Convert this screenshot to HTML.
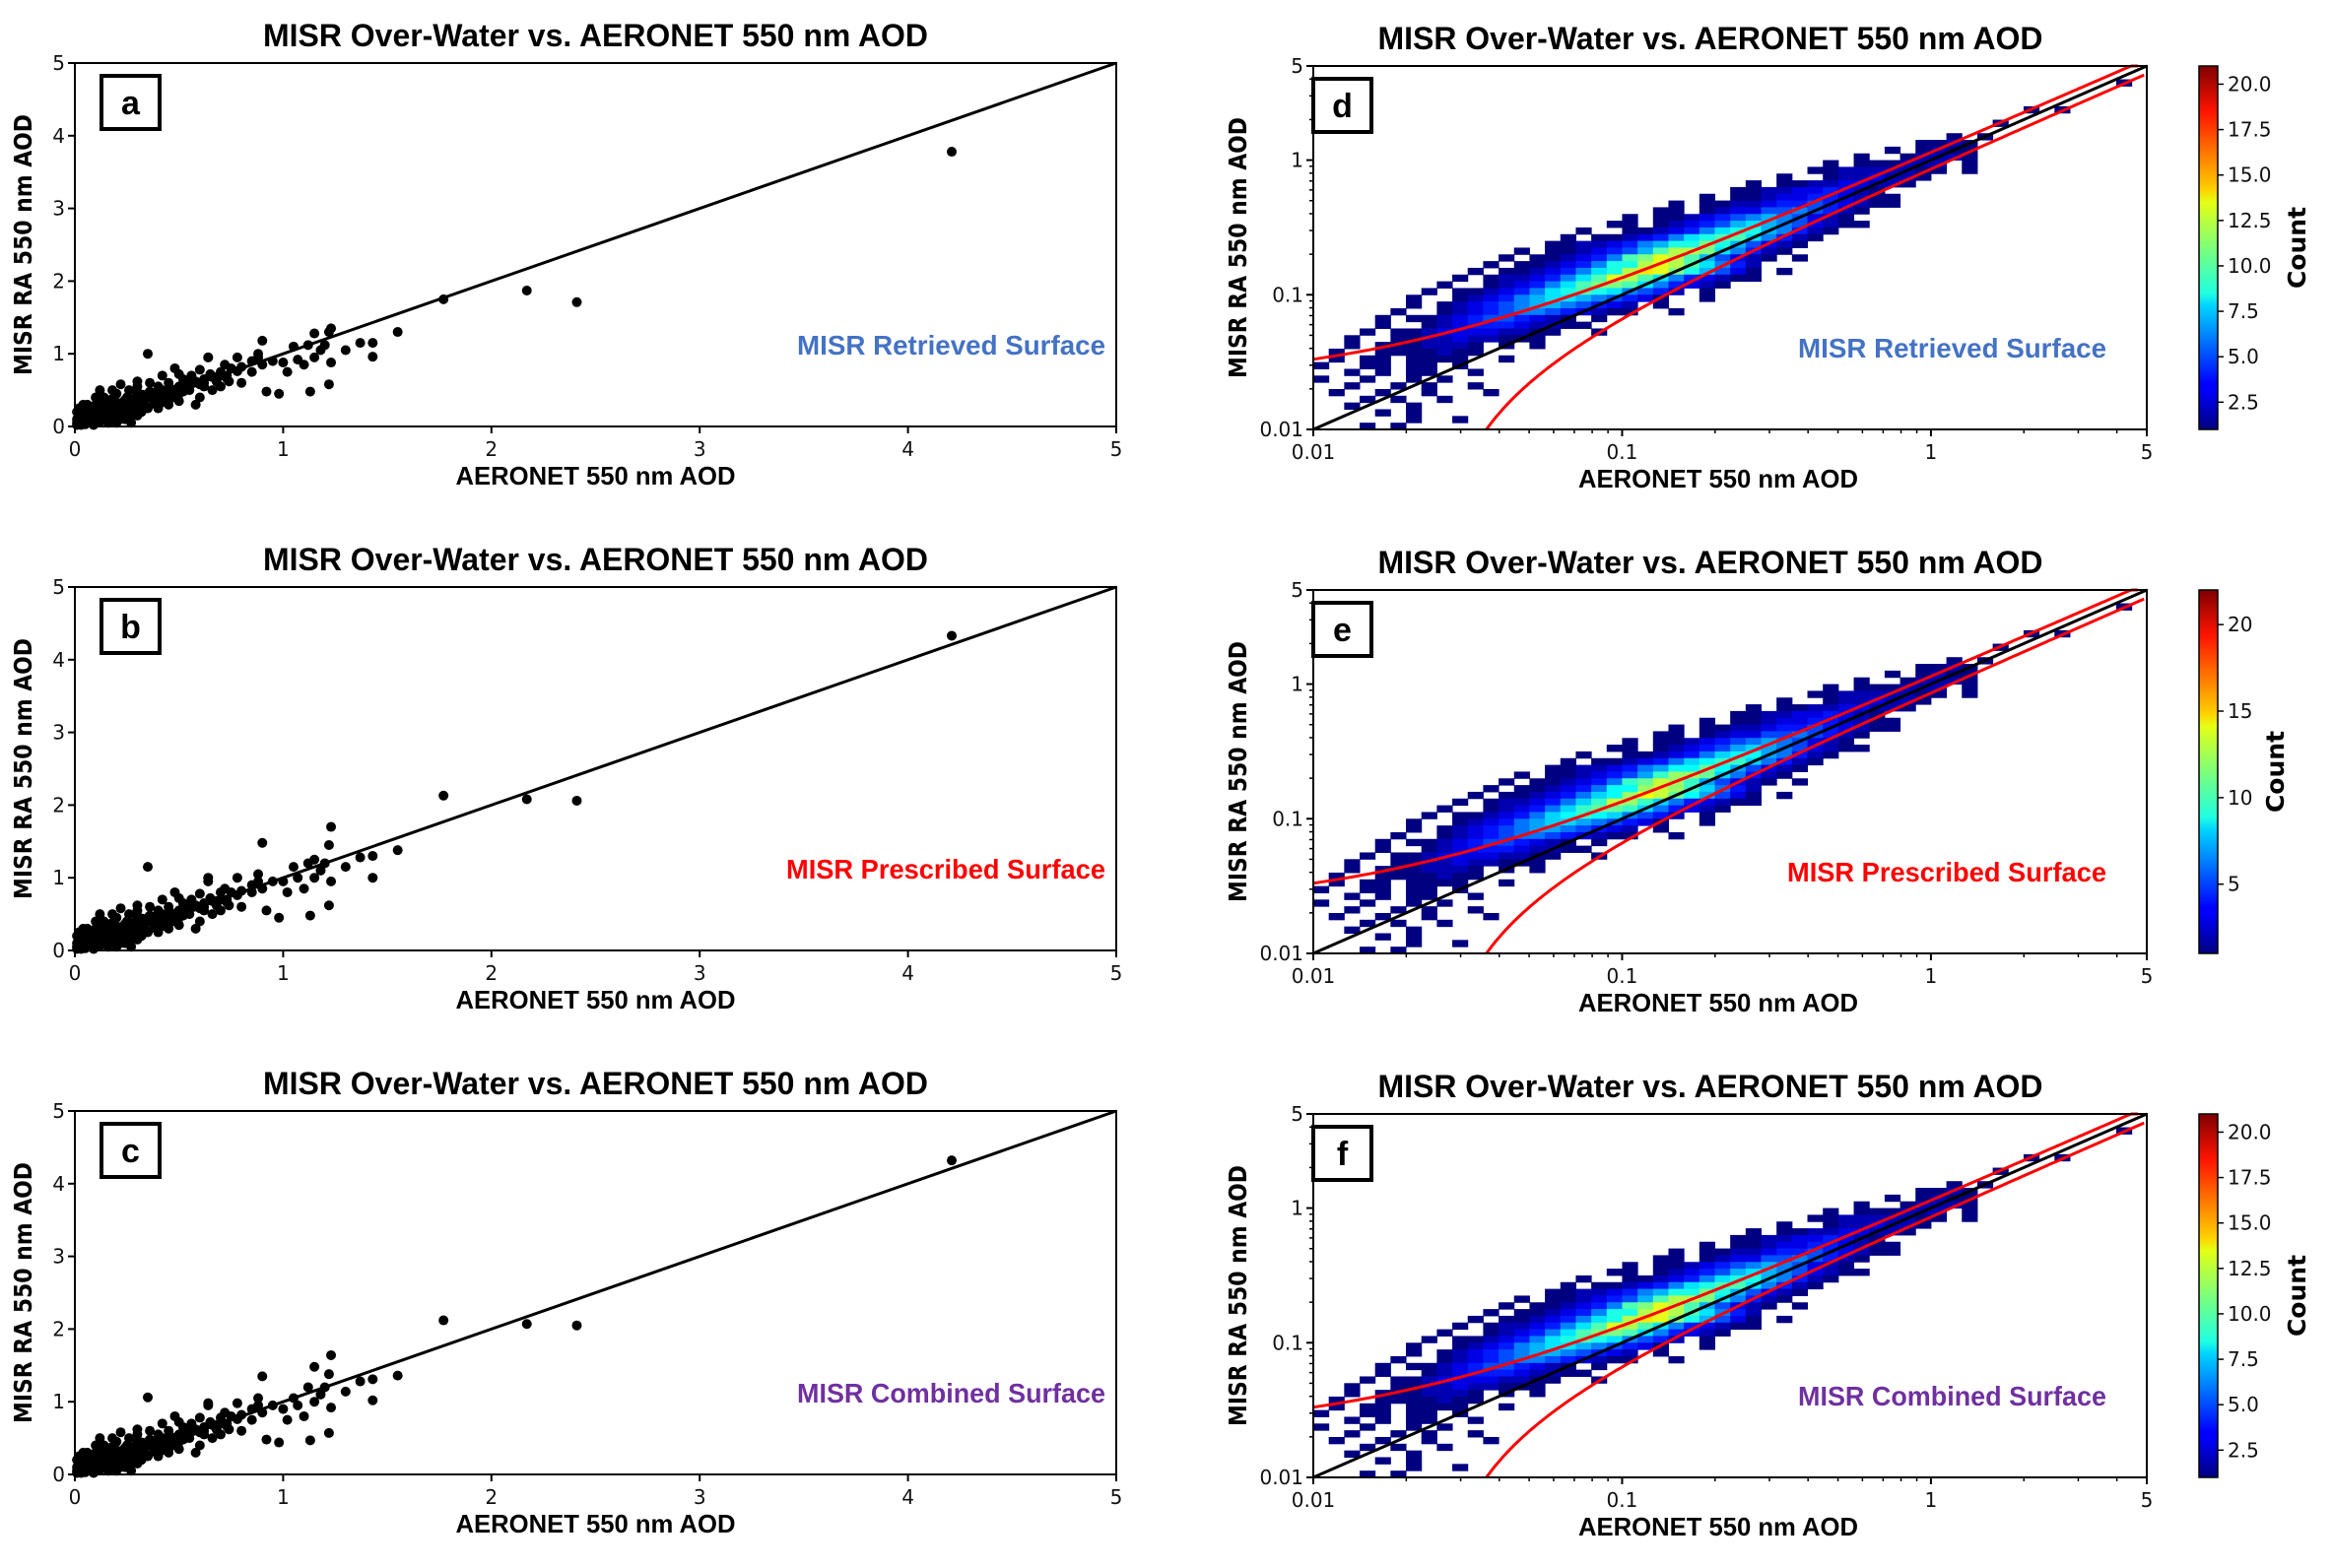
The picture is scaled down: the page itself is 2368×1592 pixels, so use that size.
<!DOCTYPE html>
<html><head><meta charset="utf-8">
<style>
html,body{margin:0;padding:0;background:#fff;}
svg{display:block;}
text{font-family:"Liberation Sans",sans-serif;}
.tick{font-family:"DejaVu Sans","Liberation Sans",sans-serif;font-size:20px;fill:#111;}
</style></head>
<body>
<svg id="fig" xmlns="http://www.w3.org/2000/svg" width="2368" height="1592" viewBox="0 0 2368 1592">
<defs>
<linearGradient id="jet" x1="0" y1="1" x2="0" y2="0">
<stop offset="0" stop-color="#00007f"/><stop offset="0.11" stop-color="#0000ff"/><stop offset="0.125" stop-color="#0000ff"/>
<stop offset="0.34" stop-color="#00d4ff"/><stop offset="0.375" stop-color="#1fffe0"/><stop offset="0.5" stop-color="#7dff7a"/>
<stop offset="0.625" stop-color="#e4ff13"/><stop offset="0.66" stop-color="#ffd000"/><stop offset="0.875" stop-color="#ff1300"/><stop offset="1" stop-color="#7f0000"/>
</linearGradient>
</defs>
</svg>
<script>
// ---------- data ----------
const linTicks = [0,1,2,3,4,5];
const logTickVals = [0.01,0.1,1,5];
const logTickLabels = ["0.01","0.1","1","5"];
const clusterX = [0.6,0.58,0.62,0.66,0.7,0.72,0.5,0.45,0.4,0.36,0.32,0.3,0.26,0.24,0.2,0.18,0.16,0.14,0.1,0.08,0.06,0.04,0.3,0.4,0.5,0.55,0.45,0.35,0.22,0.28,0.15,0.12,0.07,0.05,0.09,0.17,0.26,0.34,0.44,0.52,0.6,0.65,0.74,0.8,0.85,0.9,0.22,0.3,0.42,0.5,0.12,
0.62,0.6,0.64,0.56,0.55,0.52,0.5,0.48,0.47,0.45,0.42,0.4,0.38,0.35,0.33,0.3,0.3,0.28,0.27,0.25,0.25,0.22,0.2,0.2,0.18,0.16,0.15,0.14,0.12,0.12,0.1,0.1,0.08,0.08,0.06,0.05,0.04,0.03,0.02,0.02,0.01,0.03,0.05,0.07,0.09,0.11,0.13,0.15,0.17,0.19,0.21,0.23,0.25,0.27,0.29,0.31,0.33,0.37,0.39,0.43,0.46,0.49,0.53,0.57,0.02,0.04,0.06,0.1,0.14,0.18,0.22,0.26,0.01,0.03,0.12,0.16,0.2,0.24,0.28,0.32,0.36,0.68,0.73,0.78,0.88,
0.01,0.02,0.03,0.04,0.05,0.06,0.07,0.08,0.09,0.1,0.11,0.12,0.13,0.14,0.15,0.16,0.17,0.18,0.19,0.2,0.21,0.22,0.23,0.24,0.25,0.26,0.27,0.28,0.29,0.3,0.32,0.34,0.36,0.38,0.4,0.42,0.44,0.46,0.48,0.5,
0.02,0.04,0.06,0.08,0.1,0.12,0.14,0.16,0.18,0.2,0.22,0.24,0.26,0.28,0.3,0.34,0.38,0.42,0.46,0.54,0.58,0.62,0.66,0.7,
0.01,0.03,0.05,0.07,0.09,0.11,0.13,0.15,0.17,0.19,0.21,0.23,0.25,0.27,0.29,0.31,0.35,0.39,0.41,0.45];
const clusterY = [0.4,0.3,0.65,0.5,0.55,0.85,0.35,0.3,0.25,0.6,0.2,0.15,0.5,0.1,0.05,0.5,0.05,0.4,0.3,0.1,0.3,0.3,0.45,0.4,0.45,0.6,0.5,0.25,0.2,0.35,0.25,0.18,0.18,0.1,0.02,0.15,0.28,0.38,0.36,0.48,0.58,0.72,0.62,0.82,0.9,0.85,0.58,0.62,0.7,0.72,0.5,
0.55,0.78,0.95,0.7,0.5,0.65,0.55,0.8,0.4,0.6,0.45,0.55,0.35,0.45,0.3,0.55,0.35,0.25,0.05,0.4,0.2,0.3,0.15,0.45,0.25,0.35,0.1,0.2,0.28,0.08,0.15,0.4,0.05,0.25,0.12,0.2,0.05,0.15,0.25,0.05,0.1,0.08,0.04,0.12,0.22,0.16,0.24,0.18,0.3,0.22,0.32,0.26,0.3,0.33,0.28,0.38,0.42,0.4,0.44,0.4,0.5,0.48,0.52,0.6,0.15,0.2,0.06,0.22,0.32,0.38,0.1,0.12,0.2,0.02,0.35,0.12,0.28,0.36,0.2,0.44,0.48,0.68,0.66,0.76,0.95,
0.05,0.08,0.1,0.12,0.1,0.14,0.12,0.16,0.15,0.18,0.17,0.2,0.19,0.22,0.2,0.24,0.22,0.25,0.24,0.27,0.26,0.28,0.27,0.3,0.3,0.32,0.31,0.33,0.32,0.35,0.36,0.38,0.4,0.41,0.43,0.45,0.47,0.48,0.5,0.52,
0.15,0.2,0.22,0.16,0.2,0.24,0.22,0.28,0.3,0.33,0.3,0.36,0.34,0.38,0.42,0.42,0.46,0.5,0.52,0.56,0.62,0.6,0.68,0.7,
0.02,0.04,0.03,0.06,0.07,0.06,0.08,0.09,0.11,0.12,0.14,0.15,0.16,0.18,0.2,0.22,0.26,0.3,0.32,0.38];
const outX = [4.21,2.17,2.41,1.77,1.55,1.43,1.43,1.37,1.30,1.23,1.22,1.22,1.23,1.20,1.18,1.15,1.15,1.13,1.12,1.10,1.07,1.05,1.02,1.00,0.98,0.95,0.92,0.90,0.88,0.85,0.80,0.78,0.75,0.73,0.70,0.68,0.64,0.35];
const outYa = [3.78,1.87,1.71,1.75,1.30,1.15,0.96,1.15,1.05,1.35,1.30,0.58,0.88,1.12,1.05,1.28,0.95,0.48,1.12,0.85,0.92,1.10,0.75,0.88,0.45,0.90,0.48,1.18,1.00,0.75,0.60,0.95,0.80,0.70,0.75,0.62,0.95,1.00];
const outYb = [4.33,2.08,2.06,2.13,1.38,1.30,1.00,1.28,1.15,1.70,1.45,0.62,0.95,1.20,1.10,1.25,1.00,0.48,1.20,0.85,1.00,1.15,0.80,0.95,0.45,0.95,0.55,1.48,1.05,0.80,0.60,1.00,0.80,0.70,0.80,0.62,1.00,1.15];
const outYc = [4.32,2.07,2.05,2.12,1.36,1.31,1.02,1.28,1.14,1.64,1.38,0.57,0.92,1.20,1.10,1.48,1.00,0.47,1.20,0.80,0.95,1.05,0.75,0.90,0.44,0.95,0.48,1.35,1.05,0.75,0.60,0.98,0.80,0.70,0.78,0.62,0.98,1.06];
// heatmap: [rowBin, startColBin, counts] ; bins are 0.05 decades from 0.01; '.'=0, 1-9, a=10 ...
const heatRows = [
[51,52,"1"],[47,46,"1.1"],[45,44,"1"],[43,41,"1.1"],[42,39,"1121"],[41,37,"1.1211"],[40,35,"1..12221"],
[39,33,"1.111222.1"],[38,32,"112222211.1"],[37,30,"1..1223221"],[36,28,"1.112233221"],[35,27,"1122334321"],
[34,25,"1.11233443211"],[33,23,"1.1122344543211"],[32,22,"11.12335565421"],[31,20,"1.1123456765321"],
[30,19,"11.12345787653211"],[29,17,"1..11234689976421"],[28,16,"1.11234689aa86421"],[27,15,"1122346799b975321"],
[26,13,"1.1123457accb86421"],[25,12,"1.112346abdca75321.1"],[24,11,"1.11234699cdca8642"],[23,10,"1.11234689cedb97531.1"],
[22,9,"1.1223468adca8643211"],[21,8,"1..123468abba864321"],[20,7,"1.11234689a986542.1"],[19,6,"1..12346788765431..1"],
[18,6,"1.1234567765432.1"],[17,5,"1..1234566543211..1"],[16,4,"1.11234554321.1"],[15,4,"1..12344432211"],
[14,3,"1.11233332211..1"],[13,2,"1..1122322111"],[12,2,"1.1112221.1.1"],[11,1,"1..1111211"],[10,1,"1.11.1111..1"],
[9,0,"1..11.11.1"],[8,1,".1.1.11..1"],[7,0,"1..1..1.1"],[6,2,"1..1.1..1"],[5,1,"1..1..1...1"],[4,3,"1.1..1"],
[3,2,"1...1"],[2,4,"1.1"],[1,6,"1..1"],[0,3,"1.1"]];
const cbTicksD = [2.5,5,7.5,10,12.5,15,17.5,20];
const cbTicksE = [5,10,15,20];
const panelLetters = ["a","b","c","d","e","f"];
const surfLabels = ["MISR Retrieved Surface","MISR Prescribed Surface","MISR Combined Surface"];
const surfColors = ["#4472C4","#FF0000","#7030A0"];

// ---------- drawing ----------
const NS="http://www.w3.org/2000/svg";
const svg=document.getElementById("fig");
function mk(tag,attrs,parent){const e=document.createElementNS(NS,tag);for(const k in attrs)e.setAttribute(k,attrs[k]);(parent||svg).appendChild(e);return e;}
function txt(s,attrs,parent){const e=mk("text",attrs,parent);e.textContent=s;return e;}

const leftTops=[64,596,1128], rightTops=[67,599,1131], H=369;
const LX0=76, LX1=1133, RX0=1333, RX1=2179;
const TITLE="MISR Over-Water vs. AERONET 550 nm AOD";

function titleAndLabels(g,x0,x1,y0,y1,ylabX,right){
  const cx=(x0+x1)/2 - (right?20:0);
  const t=txt(TITLE,{x:cx,y:y0-17,"text-anchor":"middle","font-size":32,"font-weight":"bold",textLength:675,lengthAdjust:"spacingAndGlyphs"},g);
  
  
  const xl=txt("AERONET 550 nm AOD",{x:(x0+x1)/2-(right?12:0),y:y1+59,"text-anchor":"middle","font-size":26,"font-weight":"bold",textLength:284,lengthAdjust:"spacingAndGlyphs"},g);
  
  
  const yc=(y0+y1)/2;
  const yl=txt("MISR RA 550 nm AOD",{x:ylabX,y:yc,"text-anchor":"middle","font-size":25,"font-weight":"bold",textLength:265,lengthAdjust:"spacingAndGlyphs",transform:`rotate(-90 ${ylabX} ${yc})`,style:'font-family:"DejaVu Sans",sans-serif'},g);
  
  
}
function letterBox(g,x,y,l){
  const r=mk("rect",{x:x,y:y,width:59,height:54,fill:"#fff",stroke:"#000","stroke-width":4},g);
  
  
  const t=txt(l,{x:x+29.5,y:y+39,"text-anchor":"middle","font-size":34,"font-weight":"bold"},g);
  
  
}
function surfText(g,xRight,y,i){
  const t=txt(surfLabels[i],{x:xRight,y:y,"text-anchor":"end","font-size":28,"font-weight":"bold",fill:surfColors[i],textLength:i===1?324:313,lengthAdjust:"spacingAndGlyphs"},g);
  
  
}

// Left scatter panels
const outYs=[outYa,outYb,outYc];
for(let p=0;p<3;p++){
  const y0=leftTops[p], y1=y0+H;
  const g=mk("g",{});
  
  
  const sx=v=>LX0+v/5*(LX1-LX0), sy=v=>y1-v/5*(y1-y0);
  titleAndLabels(g,LX0,LX1,y0,y1,32,false);
  const l=mk("line",{x1:sx(0),y1:sy(0),x2:sx(5),y2:sy(5),stroke:"#000","stroke-width":3},g);
  
  
  const allX=clusterX.concat(outX), allY=clusterY.concat(outYs[p]);
  for(let i=0;i<allX.length;i++){
    const c=mk("circle",{cx:sx(allX[i]),cy:sy(allY[i]),r:5,fill:"#000"},g);
    
    
  }
  const fr=mk("rect",{x:LX0,y:y0,width:LX1-LX0,height:H,fill:"none",stroke:"#000","stroke-width":2},g);
  
  
  for(const v of linTicks){
    mk("line",{x1:sx(v),y1:y1,x2:sx(v),y2:y1+7,stroke:"#000","stroke-width":2},g);
    const tx=txt(String(v),{x:sx(v),y:y1+30,"text-anchor":"middle",class:"tick"},g);
    
    
    mk("line",{x1:LX0-7,y1:sy(v),x2:LX0,y2:sy(v),stroke:"#000","stroke-width":2},g);
    const ty=txt(String(v),{x:LX0-10,y:sy(v)+7,"text-anchor":"end",class:"tick"},g);
    
    
  }
  letterBox(g,103,y0+13,panelLetters[p]);
  surfText(g,1122,y0+296,p);
}

function jet(t){t=Math.max(0,Math.min(1,t));
  const f=v=>Math.round(255*Math.max(0,Math.min(1,v)));
  return `rgb(${f(1.5-Math.abs(4*t-3))},${f(1.5-Math.abs(4*t-2))},${f(1.5-Math.abs(4*t-1))})`;}
function cnt(ch){if(ch===".")return 0;return parseInt(ch,36);}

const vmaxs=[21,22,21];
const cbTickSets=[cbTicksD,cbTicksE,cbTicksD];
const LOGSPAN=Math.log10(500);
for(let p=0;p<3;p++){
  const y0=rightTops[p], y1=y0+H;
  const g=mk("g",{});
  
  
  const lx=v=>RX0+(Math.log10(v)+2)/LOGSPAN*(RX1-RX0);
  const ly=v=>y1-(Math.log10(v)+2)/LOGSPAN*(y1-y0);
  const bx=lg=>RX0+(lg+2)/LOGSPAN*(RX1-RX0);
  const by=lg=>y1-(lg+2)/LOGSPAN*(y1-y0);
  titleAndLabels(g,RX0,RX1,y0,y1,1265,true);
  const vmin=1,vmax=vmaxs[p];
  for(const row of heatRows){
    const r=row[0],c0=row[1],s=row[2];
    const ya=-2+0.05*r, yb=Math.min(-2+0.05*(r+1),Math.log10(5));
    if(ya>=Math.log10(5))continue;
    for(let k=0;k<s.length;k++){
      const n=cnt(s[k]); if(!n)continue;
      const xa=-2+0.05*(c0+k), xb=Math.min(xa+0.05,Math.log10(5));
      if(xa>=Math.log10(5))continue;
      const cell=mk("rect",{x:bx(xa),y:by(yb),width:bx(xb)-bx(xa)+0.5,height:by(ya)-by(yb)+0.5,fill:jet((n-vmin)/(vmax-vmin))},g);
      
      
    }
  }
  const xs=[]; for(let e=-2;e<=Math.log10(5)+1e-9;e+=0.01)xs.push(Math.pow(10,e));
  const path=(f)=>{let d="";let started=false;for(const x of xs){const y=f(x);if(y<=0.0099||y>5.3){if(started)break;else continue;}
      const Y=Math.max(y0,ly(y));d+=(started?"L":"M")+lx(x).toFixed(1)+","+Y.toFixed(1);started=true;}return d;};
  const up=mk("path",{d:path(x=>1.12*x+0.022),fill:"none",stroke:"#ff0000","stroke-width":3},g);
  
  
  const lo=mk("path",{d:path(x=>0.88*x-0.022),fill:"none",stroke:"#ff0000","stroke-width":3},g);
  
  
  const one=mk("line",{x1:lx(0.01),y1:ly(0.01),x2:lx(5),y2:ly(5),stroke:"#000","stroke-width":3},g);
  
  
  const fr=mk("rect",{x:RX0,y:y0,width:RX1-RX0,height:H,fill:"none",stroke:"#000","stroke-width":2},g);
  
  
  for(const dec of [0.01,0.1,1]){for(let m=2;m<=9;m++){const v=m*dec;if(v>5)break;
    mk("line",{x1:lx(v),y1:y1,x2:lx(v),y2:y1+4,stroke:"#000","stroke-width":1.5},g);
    mk("line",{x1:RX0-4,y1:ly(v),x2:RX0,y2:ly(v),stroke:"#000","stroke-width":1.5},g);}}
  for(let i=0;i<logTickVals.length;i++){
    const v=logTickVals[i];
    mk("line",{x1:lx(v),y1:y1,x2:lx(v),y2:y1+7,stroke:"#000","stroke-width":2},g);
    const tx=txt(logTickLabels[i],{x:lx(v),y:y1+30,"text-anchor":"middle",class:"tick"},g);
    
    
    mk("line",{x1:RX0-7,y1:ly(v),x2:RX0,y2:ly(v),stroke:"#000","stroke-width":2},g);
    const ty=txt(logTickLabels[i],{x:RX0-10,y:ly(v)+7,"text-anchor":"end",class:"tick"},g);
    
    
  }
  letterBox(g,RX0,y0+13,panelLetters[p+3]);
  surfText(g,2138,y0+296,p);
  const cbx=2232,cbw=19;
  const cb=mk("rect",{x:cbx,y:y0,width:cbw,height:H,fill:"url(#jet)",stroke:"#000","stroke-width":1.5},g);
  
  
  const cy=v=>y1-(v-vmin)/(vmax-vmin)*H;
  for(const v of cbTickSets[p]){
    mk("line",{x1:cbx+cbw,y1:cy(v),x2:cbx+cbw+6,y2:cy(v),stroke:"#000","stroke-width":1.5},g);
    const t=txt(p===1?String(v):v.toFixed(1),{x:cbx+cbw+10,y:cy(v)+7,class:"tick"},g);
    
    
  }
  const lbx=p===1?2318:2340, lby=(y0+y1)/2;
  const cl=txt("Count",{x:lbx,y:lby,"text-anchor":"middle","font-size":25,"font-weight":"bold",transform:`rotate(-90 ${lbx} ${lby})`,style:'font-family:"DejaVu Sans",sans-serif'},g);
  
  
}
</script>
</body></html>
